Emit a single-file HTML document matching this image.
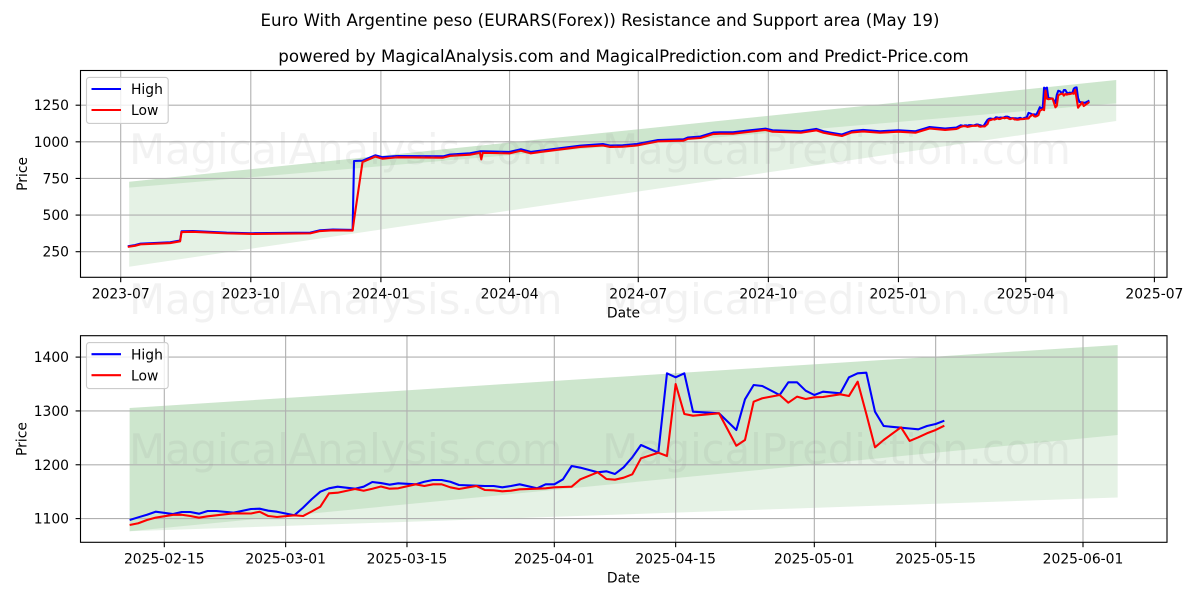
<!DOCTYPE html>
<html lang="en">
<head>
<meta charset="utf-8">
<title>Euro With Argentine peso Resistance and Support area</title>
<style>
html,body{margin:0;padding:0;background:#fff;}
svg{display:block;font-family:"DejaVu Sans","Liberation Sans",sans-serif;}
</style>
</head>
<body>
<svg id="chart" xmlns="http://www.w3.org/2000/svg" width="1200" height="600" viewBox="0 0 1200 600">
  <rect x="0" y="0" width="1200" height="600" fill="#fff"/>
  <text x="600" y="26" text-anchor="middle" font-size="16.63" fill="#000">Euro With Argentine peso (EURARS(Forex)) Resistance and Support area (May 19)</text>
  <text x="623.5" y="62" text-anchor="middle" font-size="16.63" fill="#000">powered by MagicalAnalysis.com and MagicalPrediction.com and Predict-Price.com</text>
  <g id="top-panel"></g>
  <g id="bottom-panel"></g>
  <g font-size="41.67" fill="#808080" fill-opacity="0.1" text-anchor="middle" style="white-space:pre">
    <text x="600" y="164" xml:space="preserve">MagicalAnalysis.com   MagicalPrediction.com</text>
    <text x="600" y="314" xml:space="preserve">MagicalAnalysis.com   MagicalPrediction.com</text>
    <text x="600" y="464" xml:space="preserve">MagicalAnalysis.com   MagicalPrediction.com</text>
  </g>
</svg>
<script>
// ---- Recent period (bottom panel, also the tail of the top panel) ----
const recentDates = ["2025-02-11","2025-02-12","2025-02-13","2025-02-14","2025-02-16","2025-02-17","2025-02-18","2025-02-19","2025-02-20","2025-02-21","2025-02-23","2025-02-25","2025-02-26","2025-02-27","2025-02-28","2025-03-02","2025-03-03","2025-03-04","2025-03-05","2025-03-06","2025-03-07","2025-03-09","2025-03-10","2025-03-11","2025-03-12","2025-03-13","2025-03-14","2025-03-16","2025-03-17","2025-03-18","2025-03-19","2025-03-20","2025-03-21","2025-03-23","2025-03-24","2025-03-25","2025-03-26","2025-03-27","2025-03-28","2025-03-30","2025-03-31","2025-04-01","2025-04-02","2025-04-03","2025-04-04","2025-04-06","2025-04-07","2025-04-08","2025-04-09","2025-04-10","2025-04-11","2025-04-13","2025-04-14","2025-04-15","2025-04-16","2025-04-17","2025-04-20","2025-04-22","2025-04-23","2025-04-24","2025-04-25","2025-04-27","2025-04-28","2025-04-29","2025-04-30","2025-05-01","2025-05-02","2025-05-04","2025-05-05","2025-05-06","2025-05-07","2025-05-08","2025-05-09","2025-05-11","2025-05-12","2025-05-13","2025-05-14","2025-05-15","2025-05-16"];
const recentHigh = [1097.4,1102.4,1107.2,1112.8,1108.5,1112.3,1112.3,1109.1,1114.1,1114.1,1111,1117.8,1118.4,1114.7,1112.8,1106.1,1120.2,1135.9,1150,1156.3,1159.3,1155.5,1159.3,1168,1166,1163,1165.6,1163.7,1168.5,1171.7,1171.7,1168.5,1162.4,1161.1,1160.6,1160.6,1158.1,1160.6,1163.7,1156.3,1163.7,1163.7,1173,1197.7,1194.6,1186,1187.9,1182.9,1195.3,1213.9,1236.7,1222.4,1369.9,1362.5,1369.9,1298.6,1295.6,1264.6,1321.6,1348.2,1346.3,1329.6,1353.2,1353.2,1337.6,1329.6,1335.7,1332.8,1362.5,1369.9,1371,1298.6,1272,1268.9,1267.4,1265.9,1272,1275.7,1281.9];
const recentLow = [1088.1,1091.3,1097.4,1101.7,1107,1107.2,1104.8,1101.7,1104.3,1106.1,1109.8,1109.5,1112.8,1104.8,1103,1106.1,1104.8,1113.2,1122.1,1147,1148.1,1155,1151.8,1155.5,1159.6,1155.5,1156.3,1163.7,1160.6,1163.7,1163.7,1158.1,1155,1160.6,1153.1,1152.6,1150.7,1151.8,1154.4,1155.5,1156.3,1158.1,1158.7,1159.3,1173,1186,1173.6,1172.3,1176,1182.3,1212,1222.4,1216.3,1350,1294.3,1291.2,1295.6,1235.4,1246,1317.2,1323.5,1329.6,1315.3,1326.5,1322.2,1325.3,1325.9,1330.9,1327.8,1354.3,1294.3,1232.5,1246,1269.6,1244.2,1251,1258.5,1264.6,1272.6];

// ---- Earlier period (top panel only) ----
const earlierDates = ["2023-07-06","2023-07-11","2023-07-15","2023-08-05","2023-08-12","2023-08-13","2023-08-21","2023-09-14","2023-10-02","2023-11-12","2023-11-19","2023-11-28","2023-12-12","2023-12-13","2023-12-19","2023-12-28","2024-01-02","2024-01-12","2024-02-14","2024-02-19","2024-03-04","2024-03-11","2024-03-12","2024-03-13","2024-04-01","2024-04-09","2024-04-16","2024-04-23","2024-05-21","2024-06-06","2024-06-11","2024-06-20","2024-06-30","2024-07-15","2024-08-02","2024-08-05","2024-08-14","2024-08-23","2024-08-28","2024-09-06","2024-09-18","2024-09-29","2024-10-04","2024-10-24","2024-11-04","2024-11-09","2024-11-14","2024-11-22","2024-11-29","2024-12-07","2024-12-19","2025-01-01","2025-01-13","2025-01-23","2025-02-03"];
const earlierHigh = [287,295,305,314,326,389,391,380,376,380,396,401,399,869,871,908,895,903,901,913,922,935,935,935,931,949,931,940,974,985,975,976,985,1012,1017,1029,1036,1063,1065,1065,1079,1090,1079,1072,1088,1072,1063,1050,1074,1081,1072,1079,1072,1101,1091];
const earlierLow = [283,290,300,309,321,384,386,375,371,375,391,396,394,466,862,899,885,894,892,904,912,925,880,925,921,939,921,931,965,975,965,967,975,1003,1008,1020,1026,1053,1055,1055,1069,1081,1069,1062,1078,1062,1053,1040,1064,1071,1062,1069,1062,1091,1081];

// ---- Resistance / support bands ----
const topBandDates = ["2023-07-07","2025-06-04"];
const topBandUpper = [727.8,1422];
const topBandMiddle = [687,1263];
const topBandLower = [147.6,1142];
const bottomBandDates = ["2025-02-11","2025-06-05"];
const bottomBandUpper = [1305.5,1422.5];
const bottomBandMiddle = [1076.4,1255.3];
const bottomBandLower = [1076.4,1139.2];

// ---- Tick labels ----
const topXTicks = ["2023-07","2023-10","2024-01","2024-04","2024-07","2024-10","2025-01","2025-04","2025-07"];
const topYTicks = [250,500,750,1000,1250];
const bottomXTicks = ["2025-02-15","2025-03-01","2025-03-15","2025-04-01","2025-04-15","2025-05-01","2025-05-15","2025-06-01"];
const bottomYTicks = [1100,1200,1300,1400];

const SVG_NS = "http://www.w3.org/2000/svg";
const DAY = 86400000;
function toDays(s) {
  const p = s.split("-").map(Number);
  return Date.UTC(p[0], p[1] - 1, p[2] || 1) / DAY;
}
function make(parent, tag, props) {
  const el = document.createElementNS(SVG_NS, tag);
  for (const k in props) el.setAttribute(k, props[k]);
  parent.appendChild(el);
  return el;
}
function linear(d0, d1, r0, r1) {
  return function (v) { return r0 + (v - d0) * (r1 - r0) / (d1 - d0); };
}

function drawPanel(cfg) {
  const g = document.getElementById(cfg.id);
  const box = cfg.box;
  const x = linear(toDays(cfg.xRefA), toDays(cfg.xRefB), cfg.xPxA, cfg.xPxB);
  const y = linear(cfg.yRefA, cfg.yRefB, cfg.yPxA, cfg.yPxB);
  const bx = cfg.bandDates.map(function (d) { return x(toDays(d)); });

  function bandPoints(a, b) {
    return bx[0] + "," + y(a[0]) + " " + bx[1] + "," + y(a[1]) + " " + bx[1] + "," + y(b[1]) + " " + bx[0] + "," + y(b[0]);
  }
  const bandWide = make(g, "polygon", { points: bandPoints(cfg.bandUpper, cfg.bandLower), fill: "#008000", "fill-opacity": 0.1 });
  
  
  const bandNarrow = make(g, "polygon", { points: bandPoints(cfg.bandUpper, cfg.bandMiddle), fill: "#008000", "fill-opacity": 0.1 });
  
  

  cfg.xTicks.forEach(function (t) {
    const px = x(toDays(t));
    const grid = make(g, "line", { x1: px, x2: px, y1: box.top, y2: box.bottom, stroke: "#b0b0b0", "stroke-width": 1.11 });
    
    
    const tick = make(g, "line", { x1: px, x2: px, y1: box.bottom, y2: box.bottom + 4.9, stroke: "#000", "stroke-width": 1.11 });
    
    
    const label = make(g, "text", { x: px, y: box.bottom + 21, "text-anchor": "middle", "font-size": 13.89, fill: "#000" });
    
    
    label.textContent = t;
  });
  cfg.yTicks.forEach(function (t) {
    const py = y(t);
    const grid = make(g, "line", { x1: box.left, x2: box.right, y1: py, y2: py, stroke: "#b0b0b0", "stroke-width": 1.11 });
    
    
    const tick = make(g, "line", { x1: box.left - 4.9, x2: box.left, y1: py, y2: py, stroke: "#000", "stroke-width": 1.11 });
    
    
    const label = make(g, "text", { x: box.left - 11.5, y: py + 5, "text-anchor": "end", "font-size": 13.89, fill: "#000" });
    
    
    label.textContent = t;
  });

  function linePoints(values) {
    return cfg.dates.map(function (d, i) { return x(toDays(d)).toFixed(2) + "," + y(values[i]).toFixed(2); }).join(" ");
  }
  const highLine = make(g, "polyline", { points: linePoints(cfg.high), fill: "none", stroke: "#0000ff", "stroke-width": 2.08, "stroke-linejoin": "round" });
  
  
  const lowLine = make(g, "polyline", { points: linePoints(cfg.low), fill: "none", stroke: "#ff0000", "stroke-width": 2.08, "stroke-linejoin": "round" });
  
  

  const frame = make(g, "rect", { x: box.left, y: box.top, width: box.right - box.left, height: box.bottom - box.top, fill: "none", stroke: "#000", "stroke-width": 1.11 });
  
  

  const xTitle = make(g, "text", { x: 623.5, y: box.bottom + 40.3, "text-anchor": "middle", "font-size": 13.89, fill: "#000" });
  
  
  xTitle.textContent = "Date";
  const yMid = (box.top + box.bottom) / 2;
  const yTitle = make(g, "text", { x: cfg.yTitleX, y: yMid, "text-anchor": "middle", "font-size": 13.89, fill: "#000", transform: "rotate(-90 " + cfg.yTitleX + " " + yMid + ")" });
  
  
  yTitle.textContent = "Price";

  const legend = make(g, "g", {});
  
  
  const lt = box.top + 6.9;
  const legendBox = make(legend, "rect", { x: 86.5, y: lt, width: 81.7, height: 46, rx: 2.8, fill: "#fff", "fill-opacity": 0.8, stroke: "#cccccc", "stroke-width": 1.11 });
  
  
  const highKey = make(legend, "line", { x1: 91.5, x2: 121, y1: lt + 11.6, y2: lt + 11.6, stroke: "#0000ff", "stroke-width": 2.08 });
  
  
  const highText = make(legend, "text", { x: 131, y: lt + 16.7, "font-size": 13.89, fill: "#000" });
  
  
  highText.textContent = "High";
  const lowKey = make(legend, "line", { x1: 91.5, x2: 121, y1: lt + 32.6, y2: lt + 32.6, stroke: "#ff0000", "stroke-width": 2.08 });
  
  
  const lowText = make(legend, "text", { x: 131, y: lt + 37.7, "font-size": 13.89, fill: "#000" });
  
  
  lowText.textContent = "Low";
}

drawPanel({
  id: "top-panel",
  box: { left: 80.5, right: 1167, top: 70.5, bottom: 277.3 },
  xRefA: "2023-07-01", xRefB: "2025-07-01", xPxA: 120.7, xPxB: 1154.4,
  yRefA: 250, yRefB: 1250, yPxA: 251.7, yPxB: 105.2,
  dates: earlierDates.concat(recentDates),
  high: earlierHigh.concat(recentHigh),
  low: earlierLow.concat(recentLow),
  bandDates: topBandDates, bandUpper: topBandUpper, bandMiddle: topBandMiddle, bandLower: topBandLower,
  xTicks: topXTicks, yTicks: topYTicks, yTitleX: 27
});
drawPanel({
  id: "bottom-panel",
  box: { left: 80.5, right: 1167, top: 335.7, bottom: 542.3 },
  xRefA: "2025-02-15", xRefB: "2025-06-01", xPxA: 164.3, xPxB: 1083,
  yRefA: 1100, yRefB: 1400, yPxA: 518.6, yPxB: 357.1,
  dates: recentDates,
  high: recentHigh,
  low: recentLow,
  bandDates: bottomBandDates, bandUpper: bottomBandUpper, bandMiddle: bottomBandMiddle, bandLower: bottomBandLower,
  xTicks: bottomXTicks, yTicks: bottomYTicks, yTitleX: 26.5
});
</script>
</body>
</html>
